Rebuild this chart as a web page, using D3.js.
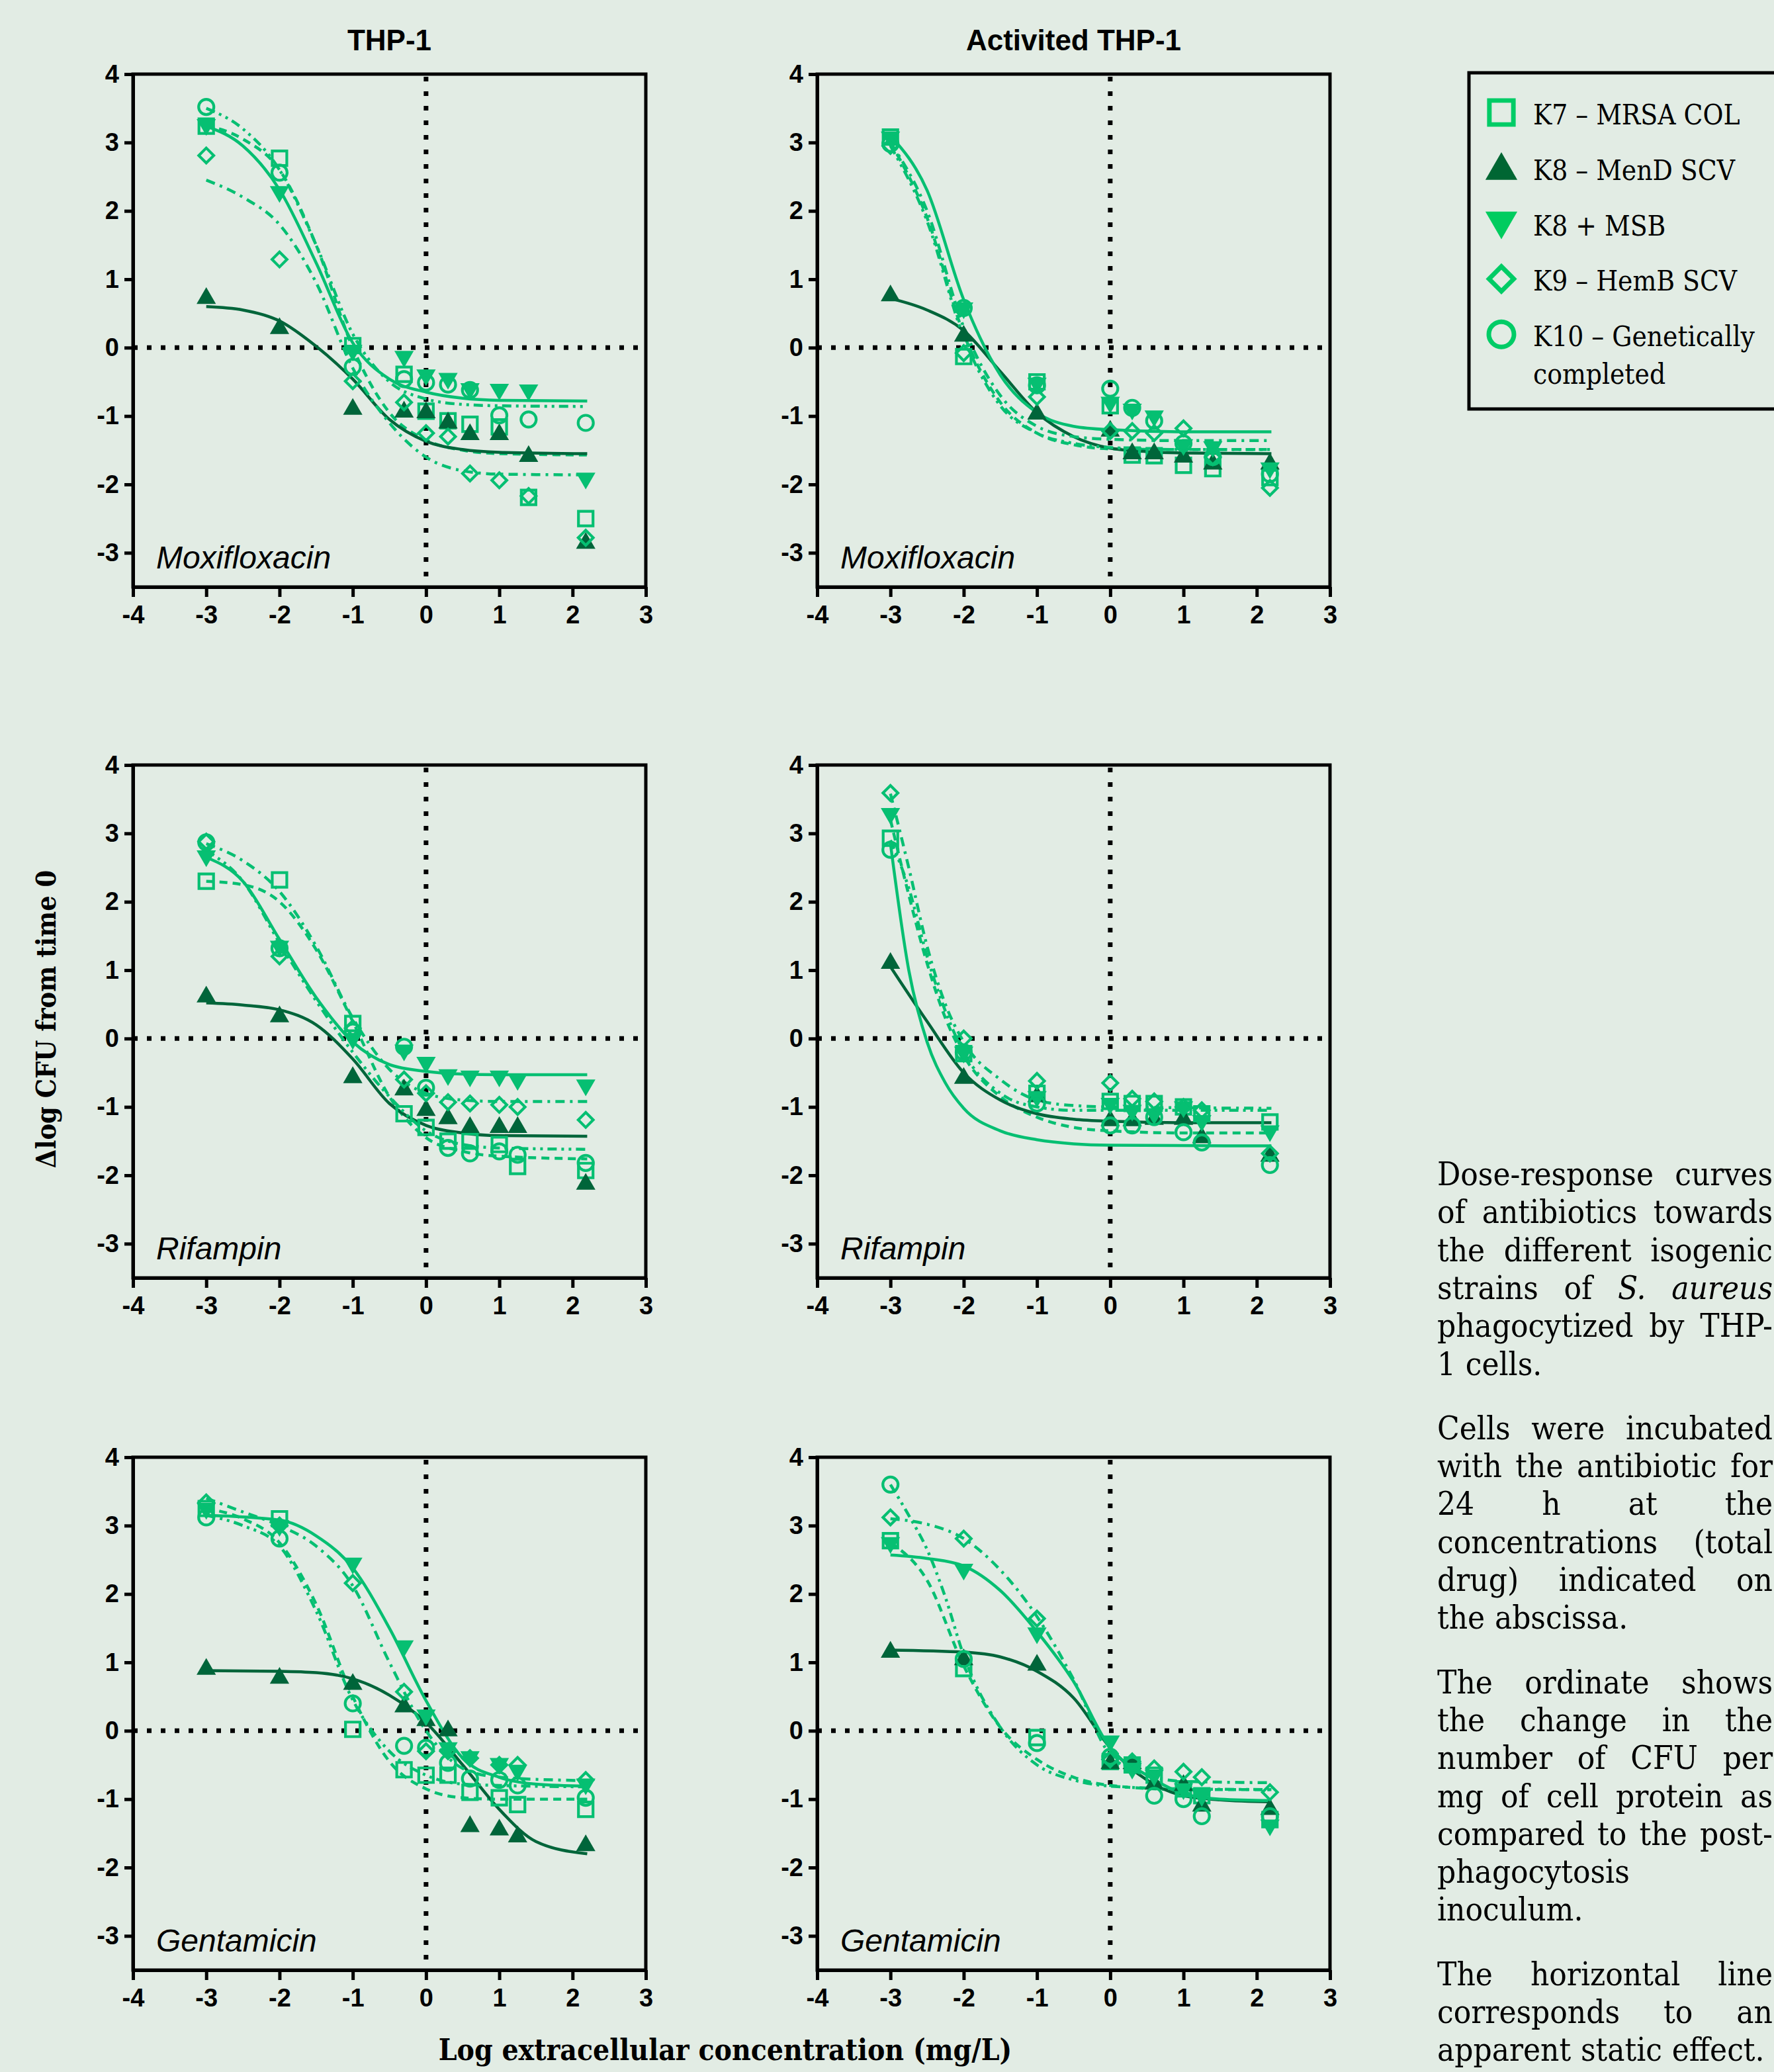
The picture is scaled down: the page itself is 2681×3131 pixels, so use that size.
<!DOCTYPE html>
<html>
<head>
<meta charset="utf-8">
<script src="https://cdn.jsdelivr.net/npm/d3@7"></script>
<style>
body { margin: 0; background: #e2ece4; }
svg { display: block; }
</style>
</head>
<body>
<svg id="chart" width="2681" height="3131"></svg>
<script>
// ticks
var xTicks = [-4, -3, -2, -1, 0, 1, 2, 3];
var yTicks = [-3, -2, -1, 0, 1, 2, 3, 4];

// strains, in legend order
var strains = ["K7 – MRSA COL", "K8 – MenD SCV", "K8 + MSB", "K9 – HemB SCV", "K10 – Genetically|completed"];

// log concentrations tested (mg/L)
var doseMoxiThp = [-3, -2, -1, -0.3, 0, 0.3, 0.6, 1, 1.4, 2.18];
var doseMoxiAct = [-3, -2, -1, 0, 0.3, 0.6, 1, 1.4, 2.18];
var doseThp = [-3, -2, -1, -0.3, 0, 0.3, 0.6, 1, 1.25, 2.18];
var doseAct = [-3, -2, -1, 0, 0.3, 0.6, 1, 1.25, 2.18];

// measured points, one row per strain (K7, K8, K8+MSB, K9, K10)
var moxiThp = [
  [3.24, 2.77, 0.03, -0.39, -0.93, -1.07, -1.12, -1.16, -2.19, -2.50],
  [0.72, 0.28, -0.90, -0.94, -0.95, -1.10, -1.27, -1.27, -1.59, -2.86],
  [3.26, 2.28, -0.04, -0.13, -0.40, -0.45, -0.60, -0.61, -0.62, -1.91],
  [2.81, 1.29, -0.49, -0.80, -1.25, -1.30, -1.84, -1.94, -2.17, -2.78],
  [3.52, 2.56, -0.28, -0.46, -0.51, -0.54, -0.62, -0.99, -1.05, -1.10]
];
var moxiAct = [
  [3.08, -0.13, -0.50, -0.85, -1.57, -1.58, -1.72, -1.77, -1.90],
  [0.76, 0.17, -0.97, -1.22, -1.55, -1.55, -1.60, -1.70, -1.70],
  [3.08, 0.58, -0.52, -0.80, -0.90, -1.00, -1.42, -1.45, -1.76],
  [2.95, -0.08, -0.72, -1.22, -1.22, -1.25, -1.18, -1.60, -2.05],
  [2.98, 0.58, -0.55, -0.60, -0.88, -1.07, -1.40, -1.60, -1.85]
];
var rifThp = [
  [2.30, 2.32, 0.22, -1.10, -1.30, -1.50, -1.50, -1.55, -1.87, -1.93],
  [0.61, 0.32, -0.57, -0.75, -1.05, -1.17, -1.30, -1.30, -1.30, -2.13],
  [2.67, 1.35, 0.00, -0.17, -0.35, -0.53, -0.55, -0.55, -0.60, -0.68],
  [2.88, 1.20, 0.15, -0.60, -0.80, -0.93, -0.95, -0.97, -1.00, -1.19],
  [2.87, 1.32, 0.10, -0.12, -0.72, -1.60, -1.68, -1.65, -1.70, -1.82]
];
var rifAct = [
  [2.93, -0.22, -0.80, -0.92, -0.95, -0.95, -1.00, -1.10, -1.22],
  [1.10, -0.58, -0.85, -1.20, -1.20, -1.18, -1.18, -1.45, -1.72],
  [3.29, -0.20, -0.85, -0.95, -1.05, -1.10, -1.00, -1.20, -1.35],
  [3.59, 0.00, -0.62, -0.65, -0.88, -0.92, -1.00, -1.05, -1.68],
  [2.76, -0.20, -0.95, -1.27, -1.27, -1.15, -1.37, -1.52, -1.85]
];
var genThp = [
  [3.25, 3.10, 0.02, -0.57, -0.65, -0.65, -0.90, -0.98, -1.08, -1.15],
  [0.90, 0.77, 0.68, 0.35, 0.15, 0.00, -1.40, -1.45, -1.55, -1.68],
  [3.25, 3.00, 2.45, 1.24, 0.23, -0.25, -0.38, -0.48, -0.58, -0.78],
  [3.34, 3.00, 2.16, 0.57, -0.30, -0.30, -0.40, -0.50, -0.50, -0.72],
  [3.12, 2.81, 0.40, -0.22, -0.25, -0.47, -0.70, -0.72, -0.80, -0.98]
];
var genAct = [
  [2.78, 0.91, -0.10, -0.45, -0.50, -0.65, -0.85, -0.95, -1.30],
  [1.15, 1.04, 0.96, -0.48, -0.48, -0.78, -0.80, -1.10, -1.15],
  [2.75, 2.36, 1.43, -0.15, -0.55, -0.65, -0.85, -0.95, -1.38],
  [3.12, 2.81, 1.64, -0.42, -0.45, -0.55, -0.60, -0.68, -0.90],
  [3.60, 1.05, -0.18, -0.38, -0.50, -0.95, -1.00, -1.25, -1.25]
];

// fitted curves as [log conc, value] knots
var moxiThpFit = [
  [[-3, 3.25], [-2.5, 3.05], [-2, 2.6], [-1.5, 1.5], [-1, 0.0], [-0.5, -0.95], [0, -1.35], [0.5, -1.5], [1, -1.55], [2.2, -1.57]],
  [[-3, 0.6], [-2.5, 0.55], [-2, 0.39], [-1.5, 0.02], [-1, -0.46], [-0.5, -1.05], [0, -1.37], [0.5, -1.49], [1, -1.53], [2.2, -1.55]],
  [[-3, 3.24], [-2.5, 2.95], [-2, 2.31], [-1.5, 1.24], [-1, 0.07], [-0.5, -0.46], [0, -0.65], [0.5, -0.74], [1, -0.77], [2.2, -0.78]],
  [[-3, 2.45], [-2.5, 2.2], [-2, 1.8], [-1.5, 0.95], [-1, -0.3], [-0.5, -1.1], [0, -1.6], [0.5, -1.8], [1, -1.85], [2.2, -1.86]],
  [[-3, 3.5], [-2.5, 3.2], [-2, 2.6], [-1.5, 1.5], [-1, 0.2], [-0.5, -0.5], [0, -0.75], [0.5, -0.83], [1, -0.85], [2.2, -0.86]]
];
var moxiActFit = [
  [[-3, 3.0], [-2.5, 1.9], [-2, 0.2], [-1.5, -0.8], [-1, -1.25], [-0.5, -1.42], [0, -1.48], [1, -1.49], [2.2, -1.49]],
  [[-3, 0.72], [-2.5, 0.55], [-2, 0.25], [-1.5, -0.35], [-1, -0.95], [-0.5, -1.3], [0, -1.47], [0.5, -1.52], [1, -1.54], [2.2, -1.55]],
  [[-3, 3.1], [-2.5, 2.3], [-2, 0.7], [-1.5, -0.4], [-1, -0.95], [-0.5, -1.15], [0, -1.2], [1, -1.23], [2.2, -1.23]],
  [[-3, 3.0], [-2.5, 2.0], [-2, 0.3], [-1.5, -0.7], [-1, -1.15], [-0.5, -1.3], [0, -1.34], [1, -1.36], [2.2, -1.36]],
  [[-3, 2.95], [-2.5, 1.85], [-2, 0.15], [-1.5, -0.85], [-1, -1.25], [-0.5, -1.4], [0, -1.46], [1, -1.49], [2.2, -1.49]]
];
var rifThpFit = [
  [[-3, 2.3], [-2.5, 2.25], [-2, 2.0], [-1.5, 1.3], [-1, 0.25], [-0.5, -0.85], [0, -1.45], [0.5, -1.65], [1, -1.72], [2.2, -1.76]],
  [[-3, 0.52], [-2.5, 0.49], [-2, 0.42], [-1.5, 0.2], [-1, -0.3], [-0.5, -0.95], [0, -1.27], [0.5, -1.38], [1, -1.42], [2.2, -1.43]],
  [[-3, 2.65], [-2.5, 2.3], [-2, 1.45], [-1.5, 0.6], [-1, -0.05], [-0.5, -0.38], [0, -0.48], [0.5, -0.52], [1, -0.53], [2.2, -0.53]],
  [[-3, 2.85], [-2.5, 2.6], [-2, 2.15], [-1.5, 1.35], [-1, 0.3], [-0.5, -0.45], [0, -0.8], [0.5, -0.9], [1, -0.92], [2.2, -0.92]],
  [[-3, 2.75], [-2.5, 2.3], [-2, 1.4], [-1.5, 0.55], [-1, -0.2], [-0.5, -0.85], [0, -1.35], [0.5, -1.55], [1, -1.6], [2.2, -1.62]]
];
var rifActFit = [
  [[-3, 3.2], [-2.75, 2.1], [-2.5, 1.1], [-2.25, 0.3], [-2, -0.25], [-1.5, -0.85], [-1, -1.15], [-0.5, -1.3], [0, -1.35], [1, -1.38], [2.2, -1.38]],
  [[-3, 1.05], [-2.5, 0.25], [-2, -0.5], [-1.5, -0.9], [-1, -1.1], [-0.5, -1.18], [0, -1.21], [1, -1.23], [2.2, -1.23]],
  [[-3, 2.85], [-2.75, 1.0], [-2.5, -0.05], [-2.25, -0.65], [-2, -1.02], [-1.5, -1.35], [-1, -1.48], [-0.5, -1.54], [0, -1.56], [2.2, -1.57]],
  [[-3, 3.58], [-2.75, 2.5], [-2.5, 1.35], [-2.25, 0.5], [-2, -0.05], [-1.5, -0.6], [-1, -0.9], [-0.5, -0.98], [0, -1.0], [2.2, -1.02]],
  [[-3, 2.9], [-2.75, 2.2], [-2.5, 1.2], [-2.25, 0.4], [-2, -0.2], [-1.5, -0.8], [-1, -1.0], [-0.5, -1.05], [0, -1.05], [2.2, -1.05]]
];
var genThpFit = [
  [[-3, 3.25], [-2.5, 3.1], [-2, 2.75], [-1.5, 1.85], [-1, 0.5], [-0.5, -0.45], [0, -0.85], [0.5, -0.98], [1, -1.0], [2.2, -1.0]],
  [[-3, 0.88], [-2, 0.87], [-1.5, 0.85], [-1, 0.76], [-0.5, 0.52], [0, 0.12], [0.5, -0.5], [1, -1.15], [1.5, -1.62], [2.2, -1.8]],
  [[-3, 3.15], [-2, 3.08], [-1.5, 2.85], [-1, 2.38], [-0.5, 1.5], [0, 0.44], [0.5, -0.4], [1, -0.68], [1.5, -0.78], [2.2, -0.81]],
  [[-3, 3.4], [-2.5, 3.2], [-2, 3.0], [-1.5, 2.7], [-1, 2.12], [-0.5, 1.0], [0, 0.0], [0.5, -0.55], [1, -0.68], [2.2, -0.73]],
  [[-3, 3.15], [-2.5, 3.0], [-2, 2.7], [-1.5, 1.75], [-1, 0.45], [-0.5, -0.3], [0, -0.65], [0.5, -0.78], [1, -0.8], [2.2, -0.82]]
];
var genActFit = [
  [[-3, 2.75], [-2.5, 2.2], [-2, 0.95], [-1.5, 0.05], [-1, -0.42], [-0.5, -0.68], [0, -0.8], [1, -0.86], [2.2, -0.86]],
  [[-3, 1.18], [-2, 1.15], [-1.5, 1.08], [-1, 0.87], [-0.5, 0.48], [0, -0.25], [0.5, -0.72], [1, -0.95], [1.5, -1.01], [2.2, -1.04]],
  [[-3, 2.57], [-2.5, 2.52], [-2, 2.41], [-1.5, 2.05], [-1, 1.45], [-0.5, 0.72], [0, -0.25], [0.5, -0.65], [1, -0.92], [1.5, -1.0], [2.2, -1.02]],
  [[-3, 3.1], [-2.5, 3.02], [-2, 2.81], [-1.5, 2.35], [-1, 1.67], [-0.5, 0.75], [0, -0.35], [0.5, -0.65], [1, -0.74], [2.2, -0.76]],
  [[-3, 3.6], [-2.75, 3.15], [-2.5, 2.65], [-2.25, 1.95], [-2, 1.1], [-1.5, 0.05], [-1, -0.5], [-0.5, -0.72], [0, -0.81], [1, -0.85], [2.2, -0.86]]
];

var captionParas = [
  ["Dose-response curves", "of antibiotics towards", "the different isogenic", "strains of *S.* *aureus*", "phagocytized by THP-", "1 cells."],
  ["Cells were incubated", "with the antibiotic for", "24 h at the", "concentrations (total", "drug) indicated on", "the abscissa."],
  ["The ordinate shows", "the change in the", "number of CFU per", "mg of cell protein as", "compared to the post-", "phagocytosis", "inoculum."],
  ["The horizontal line", "corresponds to an", "apparent static effect."]
];

var panels = [
  {col: 0, row: 0, drug: "Moxifloxacin", dose: doseMoxiThp, pts: moxiThp, fit: moxiThpFit},
  {col: 1, row: 0, drug: "Moxifloxacin", dose: doseMoxiAct, pts: moxiAct, fit: moxiActFit},
  {col: 0, row: 1, drug: "Rifampin", dose: doseThp, pts: rifThp, fit: rifThpFit},
  {col: 1, row: 1, drug: "Rifampin", dose: doseAct, pts: rifAct, fit: rifActFit},
  {col: 0, row: 2, drug: "Gentamicin", dose: doseThp, pts: genThp, fit: genThpFit},
  {col: 1, row: 2, drug: "Gentamicin", dose: doseAct, pts: genAct, fit: genActFit}
];
var colTitles = ["THP-1", "Activited THP-1"];

var bright = "#06bf72", dark = "#00653a";
var colors = [bright, dark, bright, bright, bright];
var dashes = ["12,8", null, null, "14,8,4,8", "14,7,4,7,4,7"];
var shapes = ["square", "triUp", "triDown", "diamond", "circle"];

var sans = '"Liberation Sans", Arial, sans-serif';
var serif = '"DejaVu Serif Condensed", "DejaVu Serif", serif';

var svg = d3.select("#chart");
svg.append("rect").attr("width", 2681).attr("height", 3131).attr("fill", "#e2ece4");

var colLeft = [201, 1235], rowTop = [112, 1156, 2202], size = 775;

// draws one marker, k scales it (1 = chart size)
function marker(g, i, cx, cy, k, col) {
  var shape = shapes[i], p, rot = 0;
  if (shape == "square") p = d3.symbol(d3.symbolSquare, Math.pow(22 * k, 2));
  else if (shape == "diamond") { p = d3.symbol(d3.symbolSquare, Math.pow(16 * k, 2)); rot = 45; }
  else if (shape == "circle") p = d3.symbol(d3.symbolCircle, Math.PI * Math.pow(11.5 * k, 2));
  else { p = d3.symbol(d3.symbolTriangle, 370 * k * k); if (shape == "triDown") rot = 180; }
  var open = (shape == "square" || shape == "diamond" || shape == "circle");
  return g.append("path")
    .attr("d", p())
    .attr("transform", "translate(" + cx + "," + cy + ") rotate(" + rot + ")")
    .attr("fill", open ? "none" : col)
    .attr("stroke", open ? col : "none")
    .attr("stroke-width", 4.2 * k);
}

panels.forEach(function (p) {
  var x0 = colLeft[p.col], y0 = rowTop[p.row];
  var x = d3.scaleLinear().domain([-4, 3]).range([x0, x0 + size]);
  var y = d3.scaleLinear().domain([-3.5, 4]).range([y0 + size, y0]);
  var g = svg.append("g");

  // static-effect and 1 mg/L guides
  g.append("line")
    .attr("x1", x(-4)).attr("x2", x(3)).attr("y1", y(0)).attr("y2", y(0))
    .attr("stroke", "#000").attr("stroke-width", 7).attr("stroke-dasharray", "7,14");
  g.append("line")
    .attr("x1", x(0)).attr("x2", x(0)).attr("y1", y(4) + 4).attr("y2", y(-3.35))
    .attr("stroke", "#000").attr("stroke-width", 7).attr("stroke-dasharray", "7,15");

  var line = d3.line().x(function (d) { return x(d[0]); }).y(function (d) { return y(d[1]); })
    .curve(d3.curveMonotoneX);
  p.fit.forEach(function (f, i) {
    g.append("path").attr("d", line(f))
      .attr("fill", "none").attr("stroke", colors[i]).attr("stroke-width", 4.5)
      .attr("stroke-dasharray", dashes[i]);
  });

  p.pts.forEach(function (vals, i) {
    vals.forEach(function (v, j) {
      marker(g, i, x(p.dose[j]), y(v), 1, colors[i]);
    });
  });

  var ay = g.append("g").attr("transform", "translate(" + x0 + ",0)")
    .call(d3.axisLeft(y).tickValues(yTicks).tickSize(13).tickSizeOuter(0).tickPadding(8)
      .tickFormat(function (d) { return String(d); }));
  var ax = g.append("g").attr("transform", "translate(0," + (y0 + size) + ")")
    .call(d3.axisBottom(x).tickValues(xTicks).tickSize(15).tickSizeOuter(0).tickPadding(13)
      .tickFormat(function (d) { return String(d); }));
  [ax, ay].forEach(function (a) {
    a.selectAll("path, line").attr("stroke", "#000").attr("stroke-width", 5);
    a.selectAll("text").attr("fill", "#000").style("font-family", sans)
      .style("font-weight", "bold").style("font-size", "38px");
  });

  g.append("rect").attr("x", x0).attr("y", y0).attr("width", size).attr("height", size)
    .attr("fill", "none").attr("stroke", "#000").attr("stroke-width", 5);

  g.append("text").attr("x", x0 + 35).attr("y", y0 + size - 28).text(p.drug)
    .style("font-family", sans).style("font-style", "italic").style("font-size", "48px");
});

colTitles.forEach(function (t, c) {
  svg.append("text").attr("x", colLeft[c] + size / 2).attr("y", 76).attr("text-anchor", "middle")
    .text(t).style("font-family", sans).style("font-weight", "bold").style("font-size", "44px");
});

svg.append("text").attr("transform", "translate(84,1540) rotate(-90)").attr("text-anchor", "middle")
  .text("Δlog CFU from time 0")
  .style("font-family", serif).style("font-weight", "bold").style("font-size", "41px");
svg.append("text").attr("x", 1096).attr("y", 3113).attr("text-anchor", "middle")
  .text("Log extracellular concentration (mg/L)")
  .style("font-family", serif).style("font-weight", "bold").style("font-size", "44px");

// legend
var leg = svg.append("g");
leg.append("rect").attr("x", 2220).attr("y", 110).attr("width", 600).attr("height", 508)
  .attr("fill", "none").attr("stroke", "#000").attr("stroke-width", 5);
var legColors = ["#00cc66", "#006633", "#00cc5f", "#00cc66", "#00cc66"];
strains.forEach(function (s, i) {
  var cy = 170 + i * 83.8;
  marker(leg, i, 2269, cy + (i == 1 ? 4 : i == 2 ? -4 : 0), 1.65, legColors[i]);
  s.split("|").forEach(function (part, k) {
    leg.append("text").attr("x", 2317).attr("y", cy + 18 + k * 57).text(part)
      .style("font-family", serif).style("font-size", "42px");
  });
});

// caption, justified
var capX = 2172, capW = 507, capSize = 49;
var cy = 1791;
captionParas.forEach(function (para) {
  para.forEach(function (ln, li) {
    var words = ln.split(" ");
    var nodes = words.map(function (w) {
      var it = w.charAt(0) == "*";
      return svg.append("text").attr("y", cy).text(it ? w.replace(/\*/g, "") : w)
        .style("font-family", serif).style("font-size", capSize + "px")
        .style("font-style", it ? "italic" : "normal");
    });
    var widths = nodes.map(function (n) { return n.node().getComputedTextLength(); });
    var total = d3.sum(widths);
    var justify = li < para.length - 1 && words.length > 1;
    var gap = justify ? Math.max(capSize * 0.2, (capW - total) / (words.length - 1)) : capSize * 0.3;
    var px = capX;
    nodes.forEach(function (n, k) { n.attr("x", px); px += widths[k] + gap; });
    cy += 57.3;
  });
  cy += 40;
});
</script>
</body>
</html>
